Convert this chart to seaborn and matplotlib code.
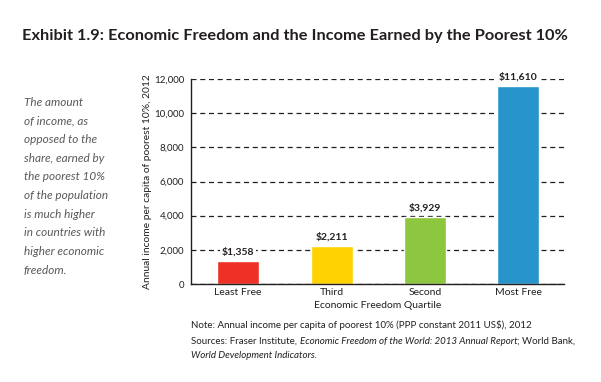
# ============================================================
# Exhibit 1.9: Economic Freedom and Income of the Poorest 10%
# ============================================================

import pandas as pd
import matplotlib.pyplot as plt
import seaborn as sns

# ============================================================
# Data
# ============================================================

quartiles = ["Least Free", "Third", "Second", "Most Free"]
income = [1358, 2211, 3929, 11610]
bar_colors = ["#EE3124", "#FFD200", "#8DC63F", "#2794CB"]
y_ticks = [0, 2000, 4000, 6000, 8000, 10000, 12000]

df = pd.DataFrame({"Quartile": quartiles, "Income": income})

# ============================================================
# Figure
# ============================================================

sns.set_style("white")
plt.rcParams["font.family"] = ["Lato", "DejaVu Sans"]

fig = plt.figure(figsize=(6.01, 3.82), dpi=100)
W, H = 601, 382
ax = fig.add_axes([191 / W, 1 - 284 / H, (564 - 191) / W, (284 - 79) / H])

sns.barplot(
    data=df,
    x="Quartile",
    y="Income",
    hue="Quartile",
    palette=bar_colors,
    saturation=1,
    width=0.45,
    legend=False,
    ax=ax,
    zorder=3
)

ax.set_ylim(0, 12000)
ax.set_xlim(-0.505, 3.49)
ax.set_yticks(y_ticks)
ax.set_yticklabels([f"{v:,}" for v in y_ticks], fontsize=7, color="#231F20")
ax.tick_params(axis="x", labelsize=7.5, colors="#231F20", length=0, pad=3)
ax.tick_params(axis="y", length=3, width=0.8, direction="out", pad=2)
ax.yaxis.grid(True, linestyle=(0, (4, 3)), color="#231F20", linewidth=0.9, zorder=0)
ax.xaxis.grid(False)
ax.set_axisbelow(True)

for side in ["top", "right"]:
    ax.spines[side].set_visible(False)
for side in ["left", "bottom"]:
    ax.spines[side].set_color("#231F20")
    ax.spines[side].set_linewidth(1.0)
    ax.spines[side].set_zorder(5)

ax.set_xlabel("Economic Freedom Quartile", fontsize=7.5, color="#231F20", labelpad=3)
ax.set_ylabel("Annual income per capita of poorest 10%, 2012", fontsize=7.4,
              color="#231F20", labelpad=1)

for i, v in enumerate(income):
    ax.text(i, v + 250, f"${v:,}", ha="center", va="bottom",
            fontsize=7.5, fontweight="bold", color="#231F20", zorder=4,
            bbox=dict(facecolor="white", edgecolor="none", pad=1.2))

# ============================================================
# Text around the chart
# ============================================================

fig.text(22 / W, 1 - 36 / H,
         "Exhibit 1.9: Economic Freedom and the Income Earned by the Poorest 10%",
         fontsize=11.8, fontweight="bold", color="#231F20", va="center", ha="left")

side_lines = [
    "The amount",
    "of income, as",
    "opposed to the",
    "share, earned by",
    "the poorest 10%",
    "of the population",
    "is much higher",
    "in countries with",
    "higher economic",
    "freedom.",
]
for k, line in enumerate(side_lines):
    fig.text(24 / W, 1 - (102 + k * 18.7) / H, line, fontsize=8.5,
             style="italic", color="#58595B", va="center", ha="left")

fig.text(191 / W, 1 - 325 / H,
         "Note: Annual income per capita of poorest 10% (PPP constant 2011 US$), 2012",
         fontsize=7, color="#231F20", va="center", ha="left")

# sources line has mixed upright / italic pieces
pieces = [
    ("Sources: Fraser Institute, ", "normal"),
    ("Economic Freedom of the World: 2013 Annual Report", "italic"),
    ("; World Bank,", "normal"),
]
renderer = fig.canvas.get_renderer()
x_px = 191
for txt, st in pieces:
    t = fig.text(x_px / W, 1 - 341 / H, txt, fontsize=7, style=st,
                 color="#231F20", va="center", ha="left")
    x_px += t.get_window_extent(renderer).width

fig.text(191 / W, 1 - 356 / H,
         "World Development Indicators.",
         fontsize=7, style="italic", color="#231F20", va="center", ha="left")

fig.savefig("out.png", dpi=100)
plt.close(fig)
